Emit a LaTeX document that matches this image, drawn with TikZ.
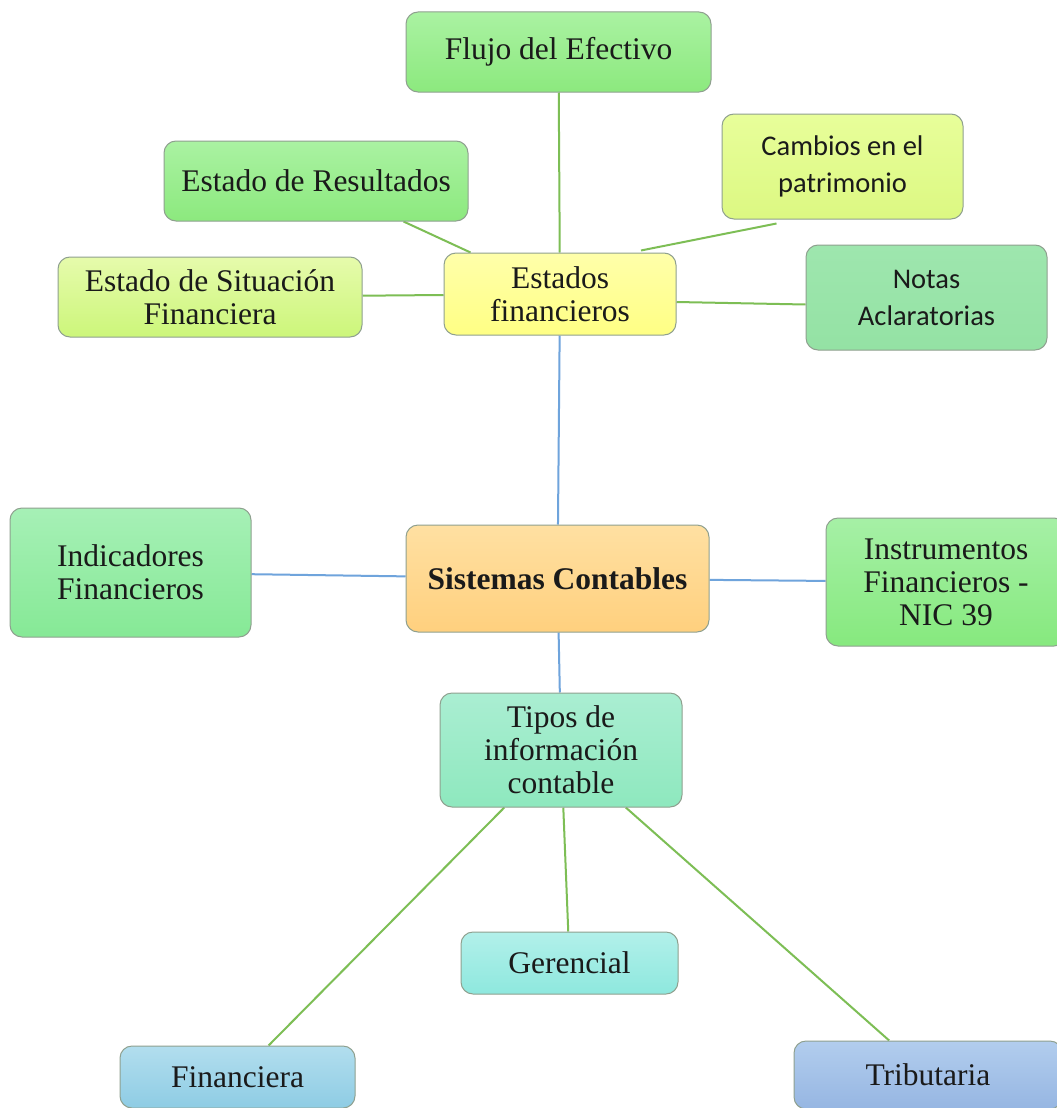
\documentclass[tikz,border=0pt]{standalone}
\usepackage{fontspec}
\setmainfont{Liberation Serif}
\newfontfamily\calibri{Carlito}
\usetikzlibrary{calc,backgrounds}

\definecolor{ink}{HTML}{1A1A1A}
\definecolor{boxline}{HTML}{8FA08F}
\definecolor{linkgreen}{HTML}{7DBE55}
\definecolor{linkblue}{HTML}{6FA4DC}
% box fills: top / bottom of each gradient
\definecolor{greenT}{HTML}{AAF2A2}   \definecolor{greenB}{HTML}{8CE97E}
\definecolor{limeT}{HTML}{E8FE9A}    \definecolor{limeB}{HTML}{DCF882}
\definecolor{olivT}{HTML}{E6FBAC}    \definecolor{olivB}{HTML}{CCF67A}
\definecolor{yellT}{HTML}{FFFFAA}    \definecolor{yellB}{HTML}{FFFF84}
\definecolor{noteT}{HTML}{9EE6AE}    \definecolor{noteB}{HTML}{94E2A4}
\definecolor{orgT}{HTML}{FFE0A2}     \definecolor{orgB}{HTML}{FFD07E}
\definecolor{indT}{HTML}{A6F0B6}     \definecolor{indB}{HTML}{86E996}
\definecolor{insT}{HTML}{A6F0A6}     \definecolor{insB}{HTML}{86E97E}
\definecolor{mintT}{HTML}{AAEED2}    \definecolor{mintB}{HTML}{8EE8BE}
\definecolor{turqT}{HTML}{B2F0EA}    \definecolor{turqB}{HTML}{8EE8DE}
\definecolor{skyT}{HTML}{B2DEEE}     \definecolor{skyB}{HTML}{8ECCE4}
\definecolor{blueT}{HTML}{B2CDEE}    \definecolor{blueB}{HTML}{96B6E2}

\begin{document}
\begin{tikzpicture}[x=1pt,y=-1pt,
  box/.style={draw=boxline, line width=1pt, rounded corners=12pt, inner sep=0pt,
    align=center, text=ink, font=\fontsize{31.5}{33}\selectfont},
  sans/.style={font=\calibri\fontsize{28.5}{37}\selectfont},
  shade2/.style 2 args={top color=#1, bottom color=#2},
  gline/.style={draw=linkgreen, line width=2pt},
  bline/.style={draw=linkblue, line width=2pt}]

\useasboundingbox (0,0) rectangle (1057,1108);

% financial statements branch
\node[box, minimum width=305, minimum height=80, shade2={greenT}{greenB}] (flujo) at (558.5,52) {Flujo del Efectivo};
\node[box, minimum width=304, minimum height=80, shade2={greenT}{greenB}] (res) at (316,181) {Estado de Resultados};
\node[box, sans, minimum width=241, minimum height=105, shade2={limeT}{limeB}] (cam) at (842.5,166.5) {Cambios en el\\patrimonio};
\node[box, minimum width=304, minimum height=80, shade2={olivT}{olivB}] (sit) at (210,297) {Estado de Situación\\Financiera};
\node[box, minimum width=232, minimum height=82, shade2={yellT}{yellB}] (est) at (560,294) {Estados\\financieros};
\node[box, sans, minimum width=241, minimum height=105, shade2={noteT}{noteB}] (notas) at (926.5,297.5) {Notas\\Aclaratorias};

% central system and its neighbours
\node[box, minimum width=303, minimum height=107, shade2={orgT}{orgB}, font=\fontsize{31.5}{33}\selectfont\bfseries] (sis) at (557.5,578.5) {Sistemas Contables};
\node[box, minimum width=241, minimum height=129, shade2={indT}{indB}] (ind) at (130.5,572.5) {Indicadores\\Financieros};
\node[box, minimum width=240, minimum height=128, shade2={insT}{insB}] (ins) at (946,582) {Instrumentos\\Financieros -\\NIC 39};

% kinds of accounting information
\node[box, minimum width=242, minimum height=114, shade2={mintT}{mintB}] (tip) at (561,750) {Tipos de\\información\\contable};
\node[box, minimum width=217, minimum height=62, shade2={turqT}{turqB}] (ger) at (569.5,963) {Gerencial};
\node[box, minimum width=235, minimum height=62, shade2={skyT}{skyB}] (fin) at (237.5,1077) {Financiera};
\node[box, minimum width=268, minimum height=68, shade2={blueT}{blueB}] (tri) at (928,1075) {Tributaria};

\begin{scope}[on background layer]
  \fill[white] (0,0) rectangle (1057,1108);
  \draw[gline] (flujo) -- (est);
  \draw[gline] (res) -- (est);
  \draw[gline] ($(cam.south)+(-66,4)$) -- ($(est.north)+(81,-2)$);
  \draw[gline] (sit) -- (est);
  \draw[gline] ($(est.east)+(0,8)$) -- ($(notas.west)+(0,7)$);
  \draw[bline] (est) -- (sis);
  \draw[bline] (ind) -- (sis);
  \draw[bline] (sis) -- (ins);
  \draw[bline] (sis) -- (tip);
  \draw[gline] (tip) -- (fin);
  \draw[gline] (tip) -- (ger);
  \draw[gline] (tip) -- (tri);
\end{scope}
\end{tikzpicture}
\end{document}
